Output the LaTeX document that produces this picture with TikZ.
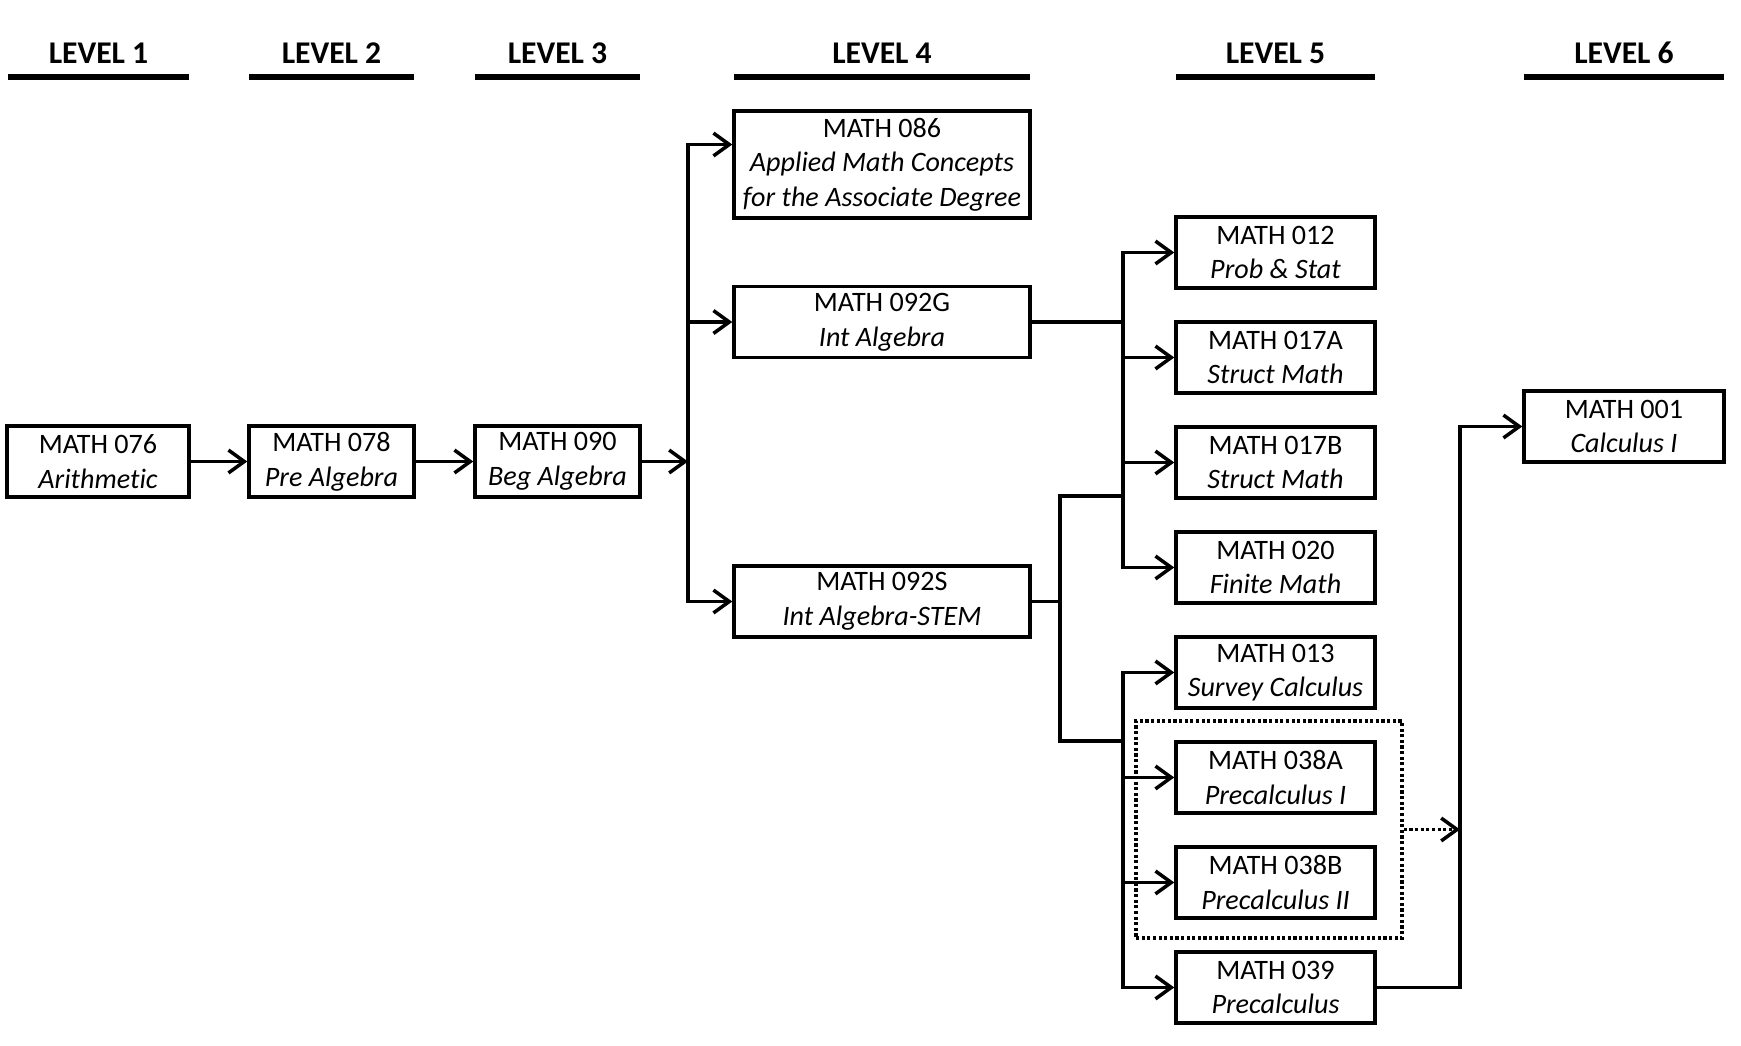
\documentclass[tikz,border=0pt]{standalone}
\usepackage{fontspec}
\setmainfont[Ligatures={NoCommon}]{Carlito}
\usetikzlibrary{arrows.meta,positioning,fit}

\begin{document}
\begin{tikzpicture}[x=0.02cm, y=-0.02cm,
  >={Straight Barb[length=9pt,width=13pt]},
  crs/.style={draw, line width=2pt, align=center, minimum width=3.98cm, minimum height=1.42cm, inner sep=0pt, font=\fontsize{16}{19.7}\selectfont},
  lvl/.style={font=\fontsize{18}{21}\selectfont\bfseries},
  link/.style={line width=2pt},
  grp/.style={draw, line width=2pt, dash pattern=on 1.8pt off 1.4pt, inner sep=0pt}]
  \useasboundingbox (0,0) rectangle (1741,1045);
  % level headings
  \foreach \a/\b/\n in {8/189/1, 249/414/2, 475/640/3, 734/1030/4, 1176/1375/5, 1524/1724/6} {
    \node[lvl] (lv\n) at ({(\a+\b)/2},53) {LEVEL \n};
    \draw[line width=3.4pt] (\a,77) -- (\b,77);
  }
  % levels 1--4
  \node[crs, minimum width=3.64cm] (m076) at (98,461.5) {MATH 076\\\textit{Arithmetic}};
  \node[crs, minimum width=3.3cm] (m078) at (331.5,461.5) {MATH 078\\\textit{Pre Algebra}};
  \node[crs, minimum width=3.3cm] (m090) at (557.5,461.5) {MATH 090\\\textit{Beg Algebra}};
  \node[crs, minimum width=5.92cm, minimum height=2.14cm] (m086) at (882,164.5) {MATH 086\\\textit{Applied Math Concepts}\\\textit{for the Associate Degree}};
  \node[crs, minimum width=5.92cm] (m092G) at (882,322) {MATH 092G\\\textit{Int Algebra}};
  \node[crs, minimum width=5.92cm] (m092S) at (882,601.5) {MATH 092S\\\textit{Int Algebra-STEM}};
  % level 5 stack
  \node[crs] (m012) at (1275.5,252.5) {MATH 012\\\textit{Prob \& Stat}};
  \node[crs, below=0.61cm of m012] (m017A) {MATH 017A\\\textit{Struct Math}};
  \node[crs, below=0.61cm of m017A] (m017B) {MATH 017B\\\textit{Struct Math}};
  \node[crs, below=0.61cm of m017B] (m020) {MATH 020\\\textit{Finite Math}};
  \node[crs, below=0.61cm of m020] (m013) {MATH 013\\\textit{Survey Calculus}};
  \node[crs, below=0.61cm of m013] (m038A) {MATH 038A\\\textit{Precalculus I}};
  \node[crs, below=0.61cm of m038A] (m038B) {MATH 038B\\\textit{Precalculus II}};
  \node[crs, below=0.61cm of m038B] (m039) {MATH 039\\\textit{Precalculus}};
  \node[grp, fit={(1136,721) (1402,938)}] (pc) {};
  % level 6
  \node[crs, minimum width=4cm] (m001) at (1624,426.5) {MATH 001\\\textit{Calculus I}};

  % connectors
  \draw[link,->] (m076) -- (m078);
  \draw[link,->] (m078) -- (m090);
  \coordinate (s4) at (688,461.5);
  \draw[link,->] (m090) -- (s4);
  \draw[link,->] (s4) |- ([yshift=0.4cm]m086.west);
  \draw[link,->] (s4) |- (m092G);
  \draw[link,->] (s4) |- (m092S);
  \coordinate (s5a) at (1123,322);
  \draw[link] (m092G) -- (s5a);
  \foreach \c in {m012,m017A,m017B,m020}
    \draw[link,->] (s5a) |- (\c);
  \coordinate (s5b) at (1060,601.5);
  \coordinate (t1) at (1060,496);
  \coordinate (t2) at (1060,741);
  \coordinate (s5c) at (1123,741);
  \draw[link] (m092S) -- (s5b);
  \draw[link] (s5a |- t1) -| (t2) -- (s5c);
  \foreach \c in {m013,m038A,m038B,m039}
    \draw[link,->] (s5c) |- (\c);
  \coordinate (s6) at (1460,426.5);
  \draw[link,->] (m039) -| (s6) -- (m001);
  \draw[link, dash pattern=on 1.8pt off 1.4pt, ->] (pc) -- (pc -| s6);
\end{tikzpicture}
\end{document}
